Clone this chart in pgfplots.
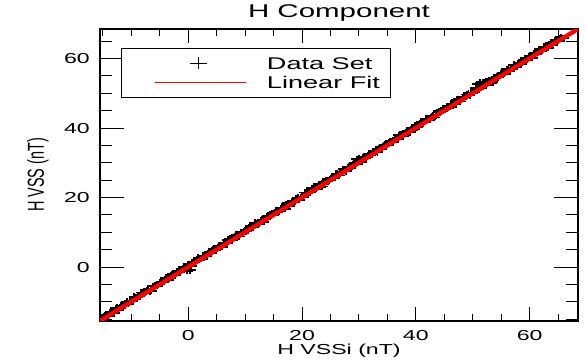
\documentclass[border=0pt]{standalone}
\usepackage{graphicx}
\usepackage{pgfplots}
\pgfplotsset{compat=1.18}
\usepackage{fontspec}
\setmainfont{Liberation Sans}[FakeStretch=1.6]
\newfontfamily\plainfont{Liberation Sans}
\pgfplotstableread{
x y
-15.0 -14.60
-14.5 -13.75
-14.0 -13.90
-13.5 -12.95
-13.0 -13.20
-12.5 -11.65
-12.0 -11.70
-11.5 -11.05
-11.0 -10.35
-10.5 -10.60
-10.0 -9.80
-9.5 -8.55
-9.0 -8.65
-8.5 -8.45
-8.0 -7.40
-7.5 -7.25
-7.0 -6.20
-6.5 -6.80
-6.0 -5.50
-5.5 -5.35
-5.0 -4.40
-4.5 -4.35
-4.0 -3.10
-3.5 -3.65
-3.0 -2.55
-2.5 -2.25
-2.0 -1.30
-1.5 -1.50
-1.0 -0.45
-0.5 -0.15
-0.2 -1.10
0.0 0.80
0.3 -0.90
0.5 0.25
1.0 1.40
1.5 2.15
2.0 2.10
2.5 3.35
3.0 3.20
3.5 4.00
4.0 3.95
4.5 5.25
5.0 5.30
5.5 6.20
6.0 5.90
6.5 7.00
7.0 7.90
7.5 7.65
8.0 8.45
8.5 9.25
9.0 8.80
9.5 10.10
10.0 10.25
10.5 10.55
11.0 11.85
11.5 11.90
12.0 12.65
12.5 12.45
13.0 13.55
13.5 13.70
14.0 14.80
14.5 14.85
15.0 15.40
15.5 16.25
16.0 16.10
16.5 17.05
17.0 16.80
17.5 18.35
18.0 18.30
18.5 18.95
19.0 19.65
19.5 19.40
20.0 20.20
20.5 21.45
21.0 21.35
21.5 21.55
22.0 22.60
22.5 22.75
23.0 23.80
23.5 23.20
24.0 24.50
24.5 24.65
25.0 25.60
25.5 25.65
26.0 26.90
26.5 26.35
27.0 27.45
27.5 27.75
28.0 28.70
28.5 28.50
29.0 29.55
29.5 29.85
29.6 31.00
30.0 30.80
30.0 31.20
30.5 30.25
31.0 31.40
31.5 32.15
32.0 32.10
32.5 33.35
33.0 33.20
33.5 34.00
34.0 33.95
34.5 35.25
35.0 35.30
35.5 36.20
36.0 35.90
36.5 37.00
37.0 37.90
37.5 37.65
38.0 38.45
38.5 39.25
39.0 38.80
39.5 40.10
40.0 40.25
40.5 40.55
41.0 41.85
41.5 41.90
42.0 42.65
42.5 42.45
43.0 43.55
43.5 43.70
44.0 44.80
44.5 44.85
45.0 45.40
45.5 46.25
46.0 46.10
46.5 47.05
47.0 46.80
47.5 48.35
48.0 48.30
48.5 48.95
49.0 49.65
49.5 49.40
50.0 50.20
50.5 51.45
50.8 52.60
51.0 51.35
51.3 53.00
51.5 51.55
51.8 53.20
52.0 52.60
52.3 53.40
52.5 52.75
53.0 53.80
53.5 53.20
54.0 54.50
54.5 54.65
55.0 55.60
55.5 55.65
56.0 56.90
56.5 56.35
57.0 57.45
57.5 57.75
58.0 58.70
58.5 58.50
59.0 59.55
59.5 59.85
60.0 60.80
60.5 60.25
61.0 61.40
61.5 62.15
62.0 62.10
62.5 63.35
63.0 63.20
63.5 64.00
64.0 63.95
64.5 65.25
65.0 65.30
65.5 66.20
66.0 65.90
}\datatable
\pgfplotstableread{
x y
-14.75 -14.25
-14.25 -14.15
-13.75 -13.05
-13.25 -12.95
-12.75 -11.85
-12.25 -12.35
-11.75 -11.15
-11.25 -11.05
-10.75 -9.95
-10.25 -9.85
-9.75 -9.75
-9.25 -8.60
-8.75 -8.40
-8.25 -7.30
-7.75 -7.60
-7.25 -6.70
-6.75 -6.95
-6.25 -5.50
-5.75 -5.30
-5.25 -5.00
-4.75 -4.25
-4.25 -4.15
-3.75 -3.05
-3.25 -2.95
-2.75 -1.85
-2.25 -2.35
-1.75 -1.15
-1.25 -1.05
-0.75 0.05
-0.25 0.15
0.25 0.25
0.75 1.40
1.25 1.60
1.75 2.70
2.25 2.40
2.75 3.30
3.25 3.05
3.75 4.50
4.25 4.70
4.75 5.00
5.25 5.75
5.75 5.85
6.25 6.95
6.75 7.05
7.25 8.15
7.75 7.65
8.25 8.85
8.75 8.95
9.25 10.05
9.75 10.15
10.25 10.25
10.75 11.40
11.25 11.60
11.75 12.70
12.25 12.40
12.75 13.30
13.25 13.05
13.75 14.50
14.25 14.70
14.75 15.00
15.25 15.75
15.75 15.85
16.25 16.95
16.75 17.05
17.25 18.15
17.75 17.65
18.25 18.85
18.75 18.95
19.25 20.05
19.75 20.15
20.25 20.25
20.75 21.40
21.25 21.60
21.75 22.70
22.25 22.40
22.75 23.30
23.25 23.05
23.75 24.50
24.25 24.70
24.75 25.00
25.25 25.75
25.75 25.85
26.25 26.95
26.75 27.05
27.25 28.15
27.75 27.65
28.25 28.85
28.75 28.95
29.25 30.05
29.75 30.15
30.25 30.25
30.75 31.40
31.25 31.60
31.75 32.70
32.25 32.40
32.75 33.30
33.25 33.05
33.75 34.50
34.25 34.70
34.75 35.00
35.25 35.75
35.75 35.85
36.25 36.95
36.75 37.05
37.25 38.15
37.75 37.65
38.25 38.85
38.75 38.95
39.25 40.05
39.75 40.15
40.25 40.25
40.75 41.40
41.25 41.60
41.75 42.70
42.25 42.40
42.75 43.30
43.25 43.05
43.75 44.50
44.25 44.70
44.75 45.00
45.25 45.75
45.75 45.85
46.25 46.95
46.75 47.05
47.25 48.15
47.75 47.65
48.25 48.85
48.75 48.95
49.25 50.05
49.75 50.15
50.25 50.25
50.75 51.40
51.25 51.60
51.75 52.70
52.25 52.40
52.75 53.30
53.25 53.05
53.75 54.50
54.25 54.70
54.75 55.00
55.25 55.75
55.75 55.85
56.25 56.95
56.75 57.05
57.25 58.15
57.75 57.65
58.25 58.85
58.75 58.95
59.25 60.05
59.75 60.15
60.25 60.25
60.75 61.40
61.25 61.60
61.75 62.70
62.25 62.40
62.75 63.30
63.25 63.05
63.75 64.50
64.25 64.70
64.75 65.00
65.25 65.75
65.75 65.85
}\datatableb
\pgfplotstableread{
x y
-16.0 -16.0
69.0 69.0
}\fittable
\begin{document}
\begin{tikzpicture}
\useasboundingbox (0,0) rectangle (585bp,361bp);
\pgfplotsset{
  base/.style={
    scale only axis, width=478bp, height=292bp,
    at={(100bp,40bp)}, anchor=south west,
    xmin=-15.5, xmax=68.5, ymin=-15.5, ymax=68.5,
    axis line style={line width=1.3bp},
    tick align=inside,
    tick style={black, line width=1bp},
    /pgf/number format/assume math mode=true,
    tick label style={font=\fontsize{14.5}{17}\selectfont, inner sep=0bp},
    xticklabel style={yshift=-9bp},
    yticklabel style={xshift=-10bp},
  }
}
% axis for y ticks and y label
\begin{axis}[base,
  xtick=\empty,
  ytick={0,20,40,60},
  minor ytick={-15,-10,...,65},
  major tick length=24bp, minor tick length=12bp,
  ylabel={\plainfont\scalebox{1}[1.6]{H VSS (nT)}},
  ylabel style={at={(axis description cs:-0.1297,0.5)}, anchor=center, font=\fontsize{14.5}{17}\selectfont},
]
\end{axis}
% main axis
\begin{axis}[base,
  clip marker paths=true,
  ytick=\empty,
  xtick={0,20,40,60},
  minor xtick={-15,-10,...,65},
  major tick length=14bp, minor tick length=7bp,
  title={H Component},
  title style={at={(axis description cs:0.5,1.0205)}, anchor=base, font=\fontsize{18.5}{20}\selectfont},
  xlabel={H VSSi (nT)},
  xlabel style={at={(axis description cs:0.5,-0.1164)}, anchor=base, font=\fontsize{14.5}{17}\selectfont},
  legend cell align=left,
  legend style={at={(axis description cs:0.0439,0.935)}, anchor=north west,
    draw=black, line width=1bp, fill=white,
    inner xsep=11bp, inner ysep=9bp, row sep=7.5bp,
    font=\fontsize{17}{19}\selectfont,
    nodes={inner sep=0bp, text height=12bp, text depth=0bp},
    /tikz/every odd column/.append style={column sep=20bp}},
]
\addplot[black, only marks, mark=+, mark size=3.5bp, mark options={xscale=1.6, line width=1.8bp},
  legend image code/.code={
    \path[draw=none, fill=none] (0bp,0bp) -- (114bp,0bp);
    \draw[black, line width=1bp] plot[mark=+, mark size=6bp, mark options={xscale=1.4, line width=1bp}] coordinates {(66bp,0bp)};
  }] table[x=x, y=y] {\datatable};
\addlegendentry{Data Set}
\addplot[black, only marks, mark=+, mark size=3.5bp, mark options={xscale=1.6, line width=1.8bp}, forget plot]
  table[x=x, y=y] {\datatableb};
\addplot[red, line width=4.3bp, no marks,
  legend image code/.code={
    \path[draw=none, fill=none] (0bp,0bp) -- (114bp,0bp);
    \draw[red, line width=1bp] (23bp,0bp) -- (114bp,0bp);
  }] table[x=x, y=y] {\fittable};
\addlegendentry{Linear Fit}
\end{axis}
\end{tikzpicture}
\end{document}
